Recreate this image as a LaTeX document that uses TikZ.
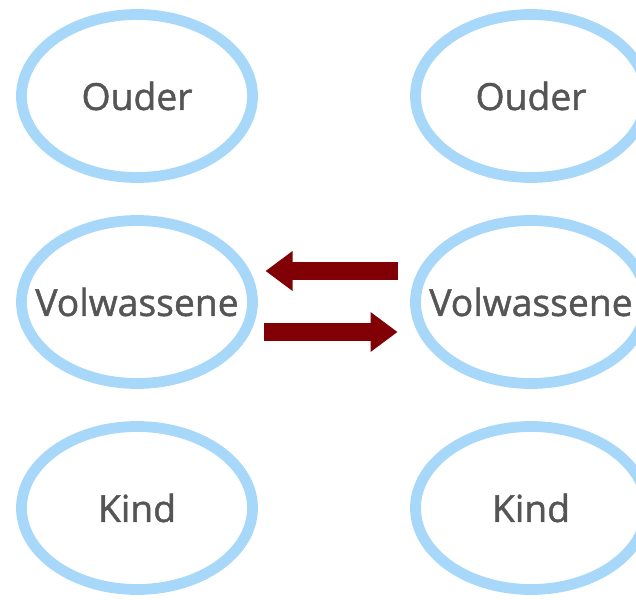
\documentclass[tikz,border=0pt]{standalone}
\usepackage{fontspec}
\setmainfont{Open Sans}
\usepackage{tikz}
\usetikzlibrary{shapes.geometric, arrows.meta}
\usetikzlibrary{positioning}
\definecolor{ringBlue}{RGB}{168,216,249}
\definecolor{darkRed}{RGB}{128,0,6}
\definecolor{textGray}{RGB}{85,85,85}
\tikzstyle{ellipseNode} = [
                ellipse,
                minimum width = 5.775cm,
                minimum height = 4.075cm,
                text centered,
                draw=ringBlue,
                line width=0.27cm,
                text=textGray,
                font=\fontsize{26.5}{30}\selectfont\addfontfeature{FakeBold=1.3},
                inner sep=0cm
            ]
\tikzstyle{arrow} = [line width=0.45cm, draw=darkRed, -{Triangle[width=0.95cm, length=0.675cm]}]

\begin{document}
\begin{tikzpicture}[node distance = 5.15 cm]
                            \useasboundingbox (-3.425,-12.575) rectangle (12.475,2.4);
                            \node (ouderL) [ellipseNode] {Ouder};
                            \node (volwL) [ellipseNode, below of=ouderL] {\makebox[0pt]{Volwassene}};
                            \node (kindL) [ellipseNode, below of=volwL] {Kind};
                            \node (ouderR) [ellipseNode, right of=ouderL, xshift = 4.7 cm] {Ouder};
                            \node (volwR) [ellipseNode, below of=ouderR] {\makebox[0pt]{Volwassene}};
                            \node (kindR) [ellipseNode, below of=volwR] {Kind};
                            \draw [arrow] ([xshift=-0.3125cm, yshift=0.775cm]volwR.west) -- ([xshift=0.19cm, yshift=0.775cm]volwL.east);
                            \draw [arrow] ([xshift=0.14cm, yshift=-0.75cm]volwL.east) -- ([xshift=-0.3125cm, yshift=-0.75cm]volwR.west);
                        \end{tikzpicture}
\end{document}
